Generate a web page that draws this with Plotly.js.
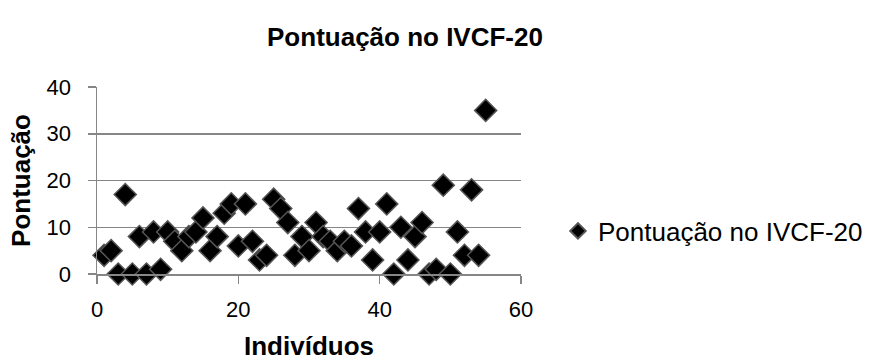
<!DOCTYPE html>
<html>
<head>
<meta charset="utf-8">
<script src="https://cdn.plot.ly/plotly-3.0.1.min.js"></script>
<style>html,body{margin:0;padding:0;background:#fff;}#chart{width:869px;height:361px;}</style>
</head>
<body>
<div id="chart"></div>
<script>
const individuos = [1,2,3,4,5,6,7,8,9,10,11,12,13,14,15,16,17,18,19,20,21,22,23,24,25,26,27,28,29,30,31,32,33,34,35,36,37,38,39,40,41,42,43,44,45,46,47,48,49,50,51,52,53,54,55];
const pontuacao = [4,5,0,17,0,8,0,9,1,9,7,5,8,9,12,5,8,13,15,6,15,7,3,4,16,14,11,4,8,5,11,8,7,5,7,6,14,9,3,9,15,0,10,3,8,11,0,1,19,0,9,4,18,4,35];
const seriesName = "Pontuação no IVCF-20";
const chartTitle = "Pontuação no IVCF-20";
const xTitle = "Indivíduos";
const yTitle = "Pontuação";

const FONT = '"Liberation Sans", Arial, sans-serif';

const trace = {
  x: individuos,
  y: pontuacao,
  type: 'scatter',
  mode: 'markers',
  name: seriesName,
  marker: {symbol: 'diamond', size: 17, color: '#000000', line: {color: '#555555', width: 1.5}},
  cliponaxis: false
};

const layout = {
  width: 869, height: 361,
  margin: {l: 97, r: 348, t: 87, b: 87, autoexpand: false},
  paper_bgcolor: '#ffffff', plot_bgcolor: '#ffffff',
  font: {family: FONT, size: 22, color: '#000'},
  title: {text: '<b>' + chartTitle + '</b>', font: {family: FONT, size: 26, color: '#000'}, x: 405/869, xanchor: 'center', y: 1 - 37/361, yanchor: 'middle'},
  xaxis: {
    range: [0, 60], dtick: 20, tick0: 0,
    showgrid: false, zeroline: false,
    showline: true, linecolor: '#868686', linewidth: 1.5,
    ticks: 'outside', ticklen: 8, tickcolor: '#868686', tickwidth: 1.5,
    ticklabelstandoff: 7,
    tickfont: {family: FONT, size: 22, color: '#000'},
    title: {text: '<b>' + xTitle + '</b>', font: {family: FONT, size: 26, color: '#000'}, standoff: 25}
  },
  yaxis: {
    range: [0, 40], dtick: 10, tick0: 0,
    showgrid: true, gridcolor: '#868686', gridwidth: 1.5,
    zeroline: false,
    showline: true, linecolor: '#868686', linewidth: 1.5,
    ticks: 'outside', ticklen: 8, tickcolor: '#868686', tickwidth: 1.5,
    ticklabelstandoff: 12,
    tickfont: {family: FONT, size: 22, color: '#000'},
    title: {text: '<b>' + yTitle + '</b>', font: {family: FONT, size: 26, color: '#000'}, standoff: 8}
  },
  showlegend: true,
  legend: {x: (558-97)/424, y: 0.23, xanchor: 'left', yanchor: 'middle', itemsizing: 'constant', font: {family: FONT, size: 26, color: '#000'}, bgcolor: 'rgba(0,0,0,0)', itemwidth: 30}
};

Plotly.newPlot('chart', [trace], layout, {displayModeBar: false, staticPlot: true});
</script>
</body>
</html>
